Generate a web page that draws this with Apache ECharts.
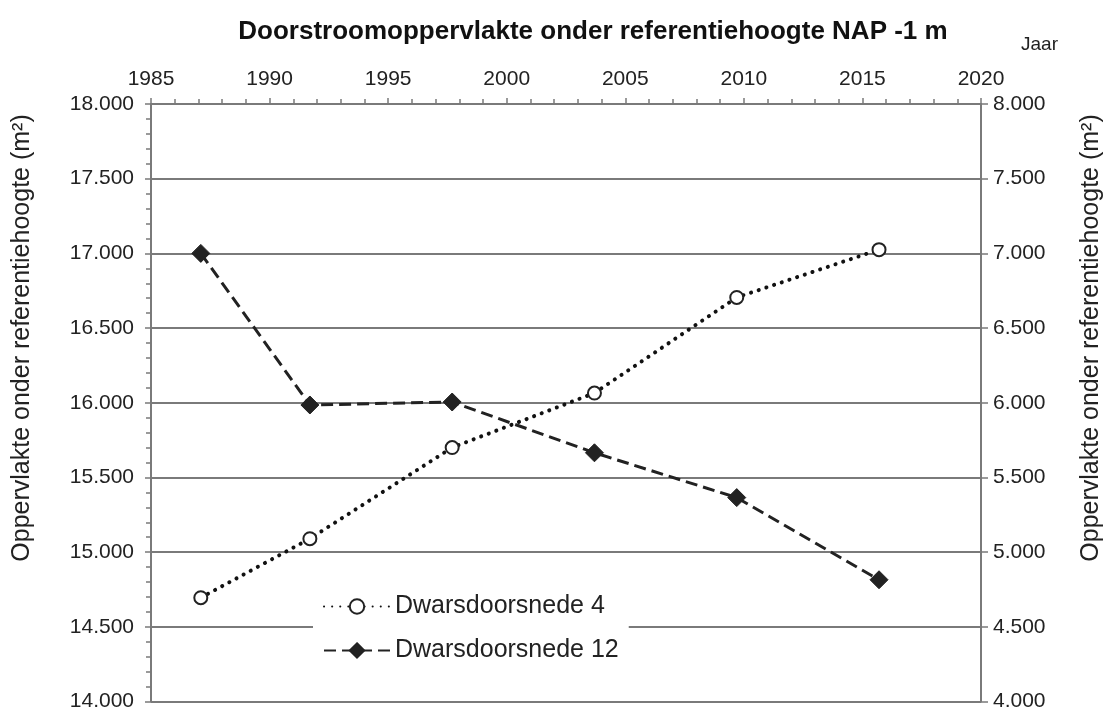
<!DOCTYPE html>
<html>
<head>
<meta charset="utf-8">
<script src="https://cdn.jsdelivr.net/npm/echarts@6/dist/echarts.min.js"></script>
<style>
  html, body { margin: 0; padding: 0; background: #fff; }
  #main { width: 1107px; height: 712px; }
</style>
</head>
<body>
<div id="main"></div>
<script>
// jaartallen van de metingen
const jaren = [1987.1, 1991.7, 1997.7, 2003.7, 2009.7, 2015.7];
// Dwarsdoorsnede 4 (linker as, m2)
const dwars4 = [14695, 15090, 15700, 16065, 16705, 17025];
// Dwarsdoorsnede 12 (rechter as, m2)
const dwars12 = [7000, 5985, 6005, 5665, 5365, 4815];
// as-bereik
const xMin = 1985, xMax = 2020, xStap = 5;
const linksMin = 14000, linksMax = 18000;
const rechtsMin = 4000, rechtsMax = 8000;
const yStap = 500;

const font = 'Liberation Sans, Arial, sans-serif';
const grijs = '#7a7a7a';
const asNaam = 'Oppervlakte onder referentiehoogte (m²)';

function fmt(v) {
    // 18000 -> 18.000
    return (v / 1000).toFixed(3);
}

const chart = echarts.init(document.getElementById('main'));

const option = {
    animation: false,
    backgroundColor: '#fff',
    textStyle: { fontFamily: font, color: '#222' },
    title: {
        text: 'Doorstroomoppervlakte onder referentiehoogte NAP -1 m',
        left: 588,
        textAlign: 'center',
        top: 14,
        textStyle: { fontFamily: font, fontSize: 26, fontWeight: 'bold', color: '#111' }
    },
    graphic: [{
        type: 'text',
        left: 1021,
        top: 35,
        style: { text: 'Jaar', font: '19px ' + font, fill: '#222' }
    }, {
        // naam linker as
        type: 'text',
        x: 22,
        y: 338,
        rotation: Math.PI / 2,
        style: { text: asNaam, font: '25px ' + font, fill: '#222', align: 'center', verticalAlign: 'middle' }
    }, {
        // naam rechter as
        type: 'text',
        x: 1091,
        y: 338,
        rotation: Math.PI / 2,
        style: { text: asNaam, font: '25px ' + font, fill: '#222', align: 'center', verticalAlign: 'middle' }
    }],
    grid: { left: 151, right: 126, top: 104, bottom: 9, containLabel: false },
    legend: {
        orient: 'vertical',
        left: 313,
        top: 586,
        padding: [8, 10, 8, 10],
        itemGap: 19,
        itemWidth: 66,
        itemHeight: 18,
        backgroundColor: '#fff',
        textStyle: { fontSize: 25, fontFamily: font, color: '#222' },
        data: ['Dwarsdoorsnede 4', 'Dwarsdoorsnede 12']
    },
    xAxis: {
        type: 'value',
        position: 'top',
        min: xMin,
        max: xMax,
        interval: xStap,
        axisLine: { show: true, lineStyle: { color: grijs, width: 2 } },
        axisTick: { show: true, inside: false, length: 6, lineStyle: { color: grijs, width: 1.5 } },
        minorTick: { show: true, splitNumber: 5, length: 5, lineStyle: { color: grijs, width: 1.5 } },
        axisLabel: { fontSize: 21, color: '#222', margin: 14, formatter: v => String(v) },
        splitLine: { show: false }
    },
    yAxis: [{
        type: 'value',
        min: linksMin,
        max: linksMax,
        interval: yStap,
        axisLine: { show: true, lineStyle: { color: grijs, width: 2 } },
        axisTick: { show: true, length: 6, lineStyle: { color: grijs, width: 1.5 } },
        minorTick: { show: true, splitNumber: 5, length: 5, lineStyle: { color: grijs, width: 1.5 } },
        axisLabel: { fontSize: 21, color: '#222', margin: 17, formatter: fmt },
        splitLine: { show: true, lineStyle: { color: grijs, width: 2 } }
    }, {
        type: 'value',
        position: 'right',
        min: rechtsMin,
        max: rechtsMax,
        interval: yStap,
        axisLine: { show: true, lineStyle: { color: grijs, width: 2 } },
        axisTick: { show: true, length: 7, lineStyle: { color: grijs, width: 1.5 } },
        axisLabel: { fontSize: 21, color: '#222', margin: 12, formatter: fmt },
        splitLine: { show: false }
    }],
    series: [{
        name: 'Dwarsdoorsnede 4',
        type: 'line',
        yAxisIndex: 0,
        data: jaren.map((j, i) => [j, dwars4[i]]),
        symbol: 'circle',
        symbolSize: 13,
        itemStyle: { color: '#fff', borderColor: '#222', borderWidth: 2 },
        lineStyle: { color: '#111', width: 4, type: [0.1, 8], cap: 'round' },
        z: 3
    }, {
        name: 'Dwarsdoorsnede 12',
        type: 'line',
        yAxisIndex: 1,
        data: jaren.map((j, i) => [j, dwars12[i]]),
        symbol: 'diamond',
        symbolSize: 18,
        itemStyle: { color: '#222', borderColor: '#222', borderWidth: 1 },
        lineStyle: { color: '#222', width: 3, type: [12, 6] },
        z: 3
    }]
};

chart.setOption(option);
</script>
</body>
</html>
